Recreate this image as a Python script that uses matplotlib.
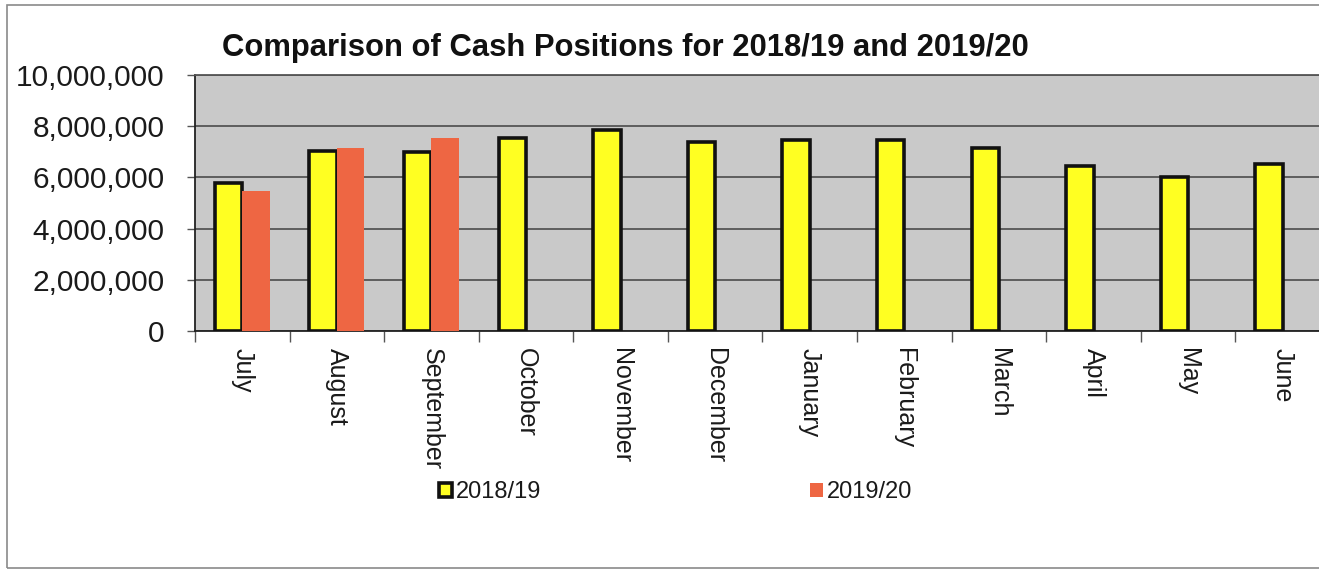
import numpy as np
import matplotlib
matplotlib.use('Agg')
import matplotlib.pyplot as plt
import matplotlib.ticker as mticker
from matplotlib.patches import Rectangle, Patch

plt.rcParams['font.family'] = ['Liberation Sans', 'DejaVu Sans']

months = ['July', 'August', 'September', 'October', 'November', 'December',
          'January', 'February', 'March', 'April', 'May', 'June']
cash_1819 = [5800000, 7050000, 6980000, 7520000, 7860000, 7400000,
             7470000, 7450000, 7150000, 6460000, 6030000, 6520000]
cash_1920 = [5480000, 7160000, 7550000, np.nan, np.nan, np.nan,
             np.nan, np.nan, np.nan, np.nan, np.nan, np.nan]
series_labels = ['2018/19', '2019/20']
yticks = [0, 2000000, 4000000, 6000000, 8000000, 10000000]

W, H = 1319, 572
fig = plt.figure(figsize=(W / 100, H / 100), dpi=100)
fig.patch.set_facecolor('white')

# thin frame around the whole chart (runs off the right edge)
fig.patches.append(Rectangle((7 / W, 4 / H), 1.2, (H - 9) / H,
                             transform=fig.transFigure, fill=False,
                             edgecolor='#8a8a8a', linewidth=1.2))

ax = fig.add_axes([195 / W, (H - 331) / H, 1135 / W, (331 - 75) / H])
ax.set_facecolor('#c9c9c9')

x = np.arange(len(months))
w = 0.29
ax.bar(x - w / 2, cash_1819, width=w, color='#ffff22', edgecolor='#111111',
       linewidth=2.6, zorder=3, label=series_labels[0])
ax.bar(x + w / 2, cash_1920, width=w, color='#ee6643', edgecolor='none',
       zorder=3, label=series_labels[1])

ax.set_xlim(-0.5, len(months) - 0.5)
ax.set_ylim(0, 10000000)
ax.set_yticks(yticks)
ax.yaxis.set_major_formatter(mticker.FuncFormatter(lambda v, p: '{:,.0f}'.format(v)))
ax.grid(axis='y', color='#555555', linewidth=1.3, zorder=1)

# tick marks between the month groups, labels centred under them
ax.set_xticks(np.arange(len(months) + 1) - 0.5)
ax.set_xticklabels([])
ax.set_xticks(x, minor=True)
ax.set_xticklabels(months, minor=True, rotation=270, fontsize=18,
                   color='#1a1a1a', va='top', ha='center')
ax.tick_params(axis='x', which='major', length=8, width=1, color='#555555',
               direction='out')
ax.tick_params(axis='x', which='minor', length=0, pad=12)
ax.tick_params(axis='y', length=6, width=1, color='#555555', pad=16,
               labelsize=21.5, labelcolor='#1a1a1a')

for side in ['top', 'right']:
    ax.spines[side].set_color('#555555')
    ax.spines[side].set_linewidth(1.3)
ax.spines['left'].set_color('#222222')
ax.spines['bottom'].set_color('#222222')
ax.spines['left'].set_linewidth(1.3)
ax.spines['bottom'].set_linewidth(1.3)

fig.text(222 / W, 1 - 48 / H, 'Comparison of Cash Positions for 2018/19 and 2019/20',
         fontsize=22.3, fontweight='bold', color='#111111', ha='left', va='center')

handles = [Patch(facecolor='#ffff22', edgecolor='#111111', linewidth=2.6),
           Patch(facecolor='#ee6643', edgecolor='none')]
fig.legend(handles, series_labels, loc='center left',
           bbox_to_anchor=(418 / W, 1 - 492 / H), ncol=2, frameon=False,
           fontsize=17, handlelength=0.55, handleheight=0.55,
           handletextpad=0.15, columnspacing=11.4, labelcolor='#1a1a1a')

fig.savefig('out.png', dpi=100)
